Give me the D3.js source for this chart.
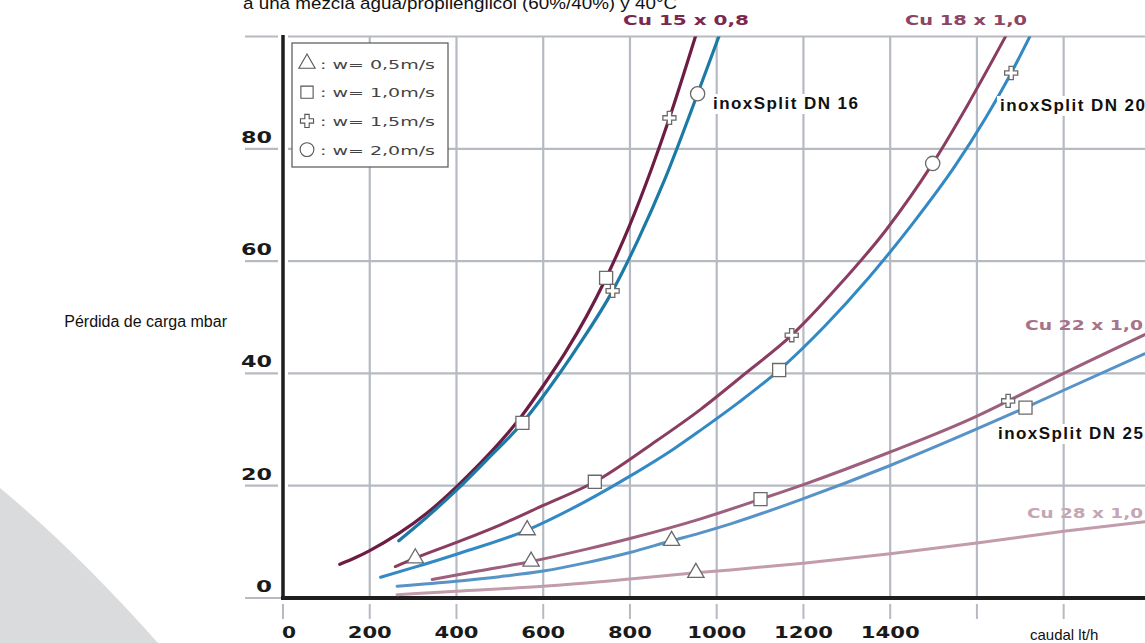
<!DOCTYPE html>
<html>
<head>
<meta charset="utf-8">
<script src="https://cdn.jsdelivr.net/npm/d3@7"></script>
<style>
  body { margin: 0; background: #fff; overflow: hidden; }
  svg { display: block; }
</style>
</head>
<body>
<div id="chart"></div>
<script>
// caudal (lt/h) , perdida de carga (mbar)
const cu15 = [[131,6.0],[170,7.3],[200,8.45],[267,11.5],[330,15.0],[400,19.8],[450,23.6],[510,28.6],[552,32.6],[600,37.8],[650,43.6],[700,50.2],[745,57],[800,66.5],[850,76.5],[891,85.5],[951,100]];
const dn16 = [[267,10.2],[330,14.3],[400,19.2],[470,24.6],[552,31.2],[610,37],[680,44.8],[760,54.7],[820,64],[880,74.5],[956,89.8],[1005,100]];
const cu18 = [[259,5.6],[305,7.1],[400,9.9],[500,13.0],[600,16.5],[719,20.7],[850,27.4],[963,33.6],[1063,39.8],[1173,46.8],[1280,55.5],[1390,65.5],[1498,77.4],[1580,88],[1666,100]];
const dn20 = [[225,3.7],[300,5.4],[400,7.8],[563,12.1],[700,17.3],[800,21.7],[900,26.5],[963,29.9],[1050,34.8],[1144,40.6],[1250,48.5],[1350,57],[1450,66.5],[1550,77],[1620,85.5],[1679,93.5],[1722,100]];
const cu22 = [[344,3.3],[450,4.8],[572,6.5],[700,8.7],[800,10.6],[963,14.1],[1101,17.6],[1200,20.2],[1400,26.0],[1600,32.4],[1672,35.1],[1800,40],[1987,46.9]];
const dn25 = [[263,2.1],[400,3.0],[500,3.8],[600,4.8],[700,6.3],[800,8.1],[896,10.2],[963,11.6],[1032,13.2],[1200,17.7],[1400,23.6],[1600,30.1],[1712,33.9],[1800,37.0],[1987,43.5]];
const cu28 = [[263,0.6],[400,1.2],[600,2.1],[800,3.4],[952,4.5],[1032,5.0],[1200,6.2],[1400,7.9],[1600,9.8],[1800,11.9],[1987,13.6]];

// puntos de velocidad
const ptsW05 = [[305,7.1],[563,12.1],[572,6.5],[896,10.2],[952,4.5]];
const ptsW10 = [[552,31.2],[745,57.0],[719,20.7],[1144,40.6],[1101,17.6],[1712,33.9]];
const ptsW15 = [[891,85.5],[760,54.7],[1173,46.8],[1679,93.5],[1672,35.1]];
const ptsW20 = [[956,89.8],[1498,77.4]];

const xTicks = [0,200,400,600,800,1000,1200,1400,1600,1800];
const xLabels = ["0","200","400","600","800","1000","1200","1400"];
const yTicks = [0,20,40,60,80,100];
const yLabels = ["0","20","40","60","80"];
const legendTexts = [": w= 0,5m/s", ": w= 1,0m/s", ": w= 1,5m/s", ": w= 2,0m/s"];
const seriesNames = ["Cu 15 x 0,8","inoxSplit DN 16","Cu 18 x 1,0","inoxSplit DN 20","Cu 22 x 1,0","inoxSplit DN 25","Cu 28 x 1,0"];

const W = 1145, H = 643;
const EXT = "'DejaVu Sans', Verdana, sans-serif";
const ARIAL = "'Liberation Sans', Arial, sans-serif";
const gridColor = "#b6bac2";

const svg = d3.select("#chart").append("svg")
    .attr("width", W).attr("height", H);

const x = d3.scaleLinear().domain([0, 2000]).range([283, 1150.4]);
const y = d3.scaleLinear().domain([0, 100]).range([598, 36.5]);

// fondo gris abajo a la izquierda
svg.append("path")
    .attr("d", "M0,488 Q75,550 158,643 L0,643 Z")
    .attr("fill", "#dadbdd");

// titulo (cortado arriba)
svg.append("text")
    .attr("x", 243).attr("y", 9)
    .attr("font-family", ARIAL).attr("font-size", 17)
    .attr("textLength", 434).attr("lengthAdjust", "spacingAndGlyphs")
    .attr("fill", "#111")
    .text("a una mezcla agua/propilenglicol  (60%/40%) y 40°C");

// rejilla horizontal
svg.append("g").selectAll("line").data(yTicks).enter().append("line")
    .attr("x1", 245).attr("x2", W)
    .attr("y1", d => y(d)).attr("y2", d => y(d))
    .attr("stroke", gridColor).attr("stroke-width", 2.2);

// rejilla vertical
svg.append("g").selectAll("line").data(xTicks.slice(1)).enter().append("line")
    .attr("x1", d => x(d)).attr("x2", d => x(d))
    .attr("y1", y(100)).attr("y2", y(0))
    .attr("stroke", gridColor).attr("stroke-width", 2.2);

// marcas debajo del eje x
svg.append("g").selectAll("line").data(xTicks).enter().append("line")
    .attr("x1", d => x(d)).attr("x2", d => x(d))
    .attr("y1", 604).attr("y2", 619)
    .attr("stroke", gridColor).attr("stroke-width", 2);

// hueco blanco junto al eje y
svg.append("line")
    .attr("x1", x(0)).attr("x2", x(0))
    .attr("y1", y(100) - 2).attr("y2", y(0) - 3)
    .attr("stroke", "#fff").attr("stroke-width", 10);

// ejes
svg.append("line")
    .attr("x1", x(0)).attr("x2", x(0))
    .attr("y1", 35).attr("y2", y(0) + 2)
    .attr("stroke", "#1e1e1e").attr("stroke-width", 3.5);
svg.append("line")
    .attr("x1", x(0) - 2).attr("x2", W)
    .attr("y1", y(0)).attr("y2", y(0))
    .attr("stroke", "#1e1e1e").attr("stroke-width", 4);

// etiquetas de los ejes
svg.append("g").selectAll("text").data(xLabels).enter().append("text")
    .attr("x", (d, i) => x(+d) + (i === 0 ? 6 : 0))
    .attr("y", 638)
    .attr("text-anchor", "middle")
    .attr("font-family", EXT).attr("font-weight", "bold").attr("font-size", 15)
    .attr("textLength", d => d.length * 15 - 1).attr("lengthAdjust", "spacingAndGlyphs")
    .attr("fill", "#1a1a1a")
    .text(d => d);

svg.append("g").selectAll("text").data(yLabels).enter().append("text")
    .attr("x", 272)
    .attr("y", d => y(+d) - 6)
    .attr("text-anchor", "end")
    .attr("font-family", EXT).attr("font-weight", "bold").attr("font-size", 15)
    .attr("textLength", d => d.length * 15 + 1).attr("lengthAdjust", "spacingAndGlyphs")
    .attr("fill", "#1a1a1a")
    .text(d => d);

svg.append("text")
    .attr("x", 227).attr("y", 327)
    .attr("text-anchor", "end")
    .attr("font-family", ARIAL).attr("font-size", 16)
    .attr("fill", "#111")
    .text("Pérdida de carga mbar");

svg.append("text")
    .attr("x", 1030).attr("y", 640)
    .attr("font-family", ARIAL).attr("font-size", 15)
    .attr("fill", "#111")
    .text("caudal lt/h");

// curvas
const line = d3.line()
    .x(d => x(d[0])).y(d => y(d[1]))
    .curve(d3.curveMonotoneX);

const curves = [
    { data: cu15, color: "#6d1c44", w: 3.2 },
    { data: dn16, color: "#1c7aa6", w: 3.2 },
    { data: cu18, color: "#8a3d60", w: 3 },
    { data: dn20, color: "#3389c4", w: 3 },
    { data: cu22, color: "#9d5f7c", w: 3 },
    { data: dn25, color: "#5793c7", w: 3 },
    { data: cu28, color: "#c29cad", w: 3 }
];

svg.append("defs").append("clipPath").attr("id", "plot")
    .append("rect").attr("x", x(0)).attr("y", y(100))
    .attr("width", W - x(0)).attr("height", y(0) - y(100));

svg.append("g").attr("clip-path", "url(#plot)")
    .selectAll("path").data(curves).enter().append("path")
    .attr("d", d => line(d.data))
    .attr("fill", "none")
    .attr("stroke", d => d.color)
    .attr("stroke-width", d => d.w)
    .attr("stroke-linecap", "round");

// marcadores
function markers(pts, type, size) {
    const sym = d3.symbol().type(type).size(size);
    svg.append("g").selectAll("path").data(pts).enter().append("path")
        .attr("transform", d => `translate(${x(d[0])},${y(d[1])})`)
        .attr("d", sym)
        .attr("fill", "#fff")
        .attr("stroke", "#6a6a6a")
        .attr("stroke-width", 1.3);
}
markers(ptsW05, d3.symbolTriangle, 115);
markers(ptsW10, d3.symbolSquare, 170);
markers(ptsW15, d3.symbolCross, 95);
markers(ptsW20, d3.symbolCircle, 160);

// etiquetas de series
const labelLayout = [
    { x: 623, y: 25, len: 126, color: "#7b284e", cu: true },
    { x: 713, y: 109, len: 145, color: "#111", cu: false },
    { x: 905, y: 25, len: 122, color: "#8d4565", cu: true },
    { x: 1000, y: 111, len: 145, color: "#111", cu: false },
    { x: 1025, y: 330, len: 118, color: "#a8728a", cu: true },
    { x: 998, y: 439, len: 145, color: "#111", cu: false },
    { x: 1027, y: 518, len: 116, color: "#c6a6b4", cu: true }
];

const lab = svg.append("g").selectAll("g").data(seriesNames).enter().append("g");
lab.filter((d, i) => !labelLayout[i].cu).append("rect")
    .attr("x", d => labelLayout[seriesNames.indexOf(d)].x - 3)
    .attr("y", d => labelLayout[seriesNames.indexOf(d)].y - 15)
    .attr("width", d => labelLayout[seriesNames.indexOf(d)].len + 6)
    .attr("height", 20)
    .attr("fill", "#fff");
lab.append("text")
    .attr("x", (d, i) => labelLayout[i].x)
    .attr("y", (d, i) => labelLayout[i].y)
    .attr("font-family", (d, i) => labelLayout[i].cu ? EXT : ARIAL)
    .attr("font-weight", "bold")
    .attr("font-size", (d, i) => labelLayout[i].cu ? 14 : 17)
    .attr("textLength", (d, i) => labelLayout[i].len)
    .attr("lengthAdjust", (d, i) => labelLayout[i].cu ? "spacingAndGlyphs" : "spacing")
    .attr("fill", (d, i) => labelLayout[i].color)
    .text(d => d);

// leyenda
const leg = svg.append("g");
leg.append("rect")
    .attr("x", 292).attr("y", 43).attr("width", 156).attr("height", 124)
    .attr("fill", "#fff").attr("stroke", "#555").attr("stroke-width", 1.2);

const legSyms = [d3.symbolTriangle, d3.symbolSquare, d3.symbolCross, d3.symbolCircle];
const legSizes = [115, 150, 95, 150];
const rows = leg.selectAll("g").data(legendTexts).enter().append("g")
    .attr("transform", (d, i) => `translate(0,${63.5 + i * 28.7})`);
rows.append("path")
    .attr("transform", "translate(307,0)")
    .attr("d", (d, i) => d3.symbol().type(legSyms[i]).size(legSizes[i])())
    .attr("fill", "#fff").attr("stroke", "#555").attr("stroke-width", 1.1);
rows.append("text")
    .attr("x", 320).attr("y", 5)
    .attr("font-family", EXT).attr("font-size", 12.5)
    .attr("textLength", 115).attr("lengthAdjust", "spacingAndGlyphs")
    .attr("fill", "#444")
    .text(d => d);
</script>
</body>
</html>
